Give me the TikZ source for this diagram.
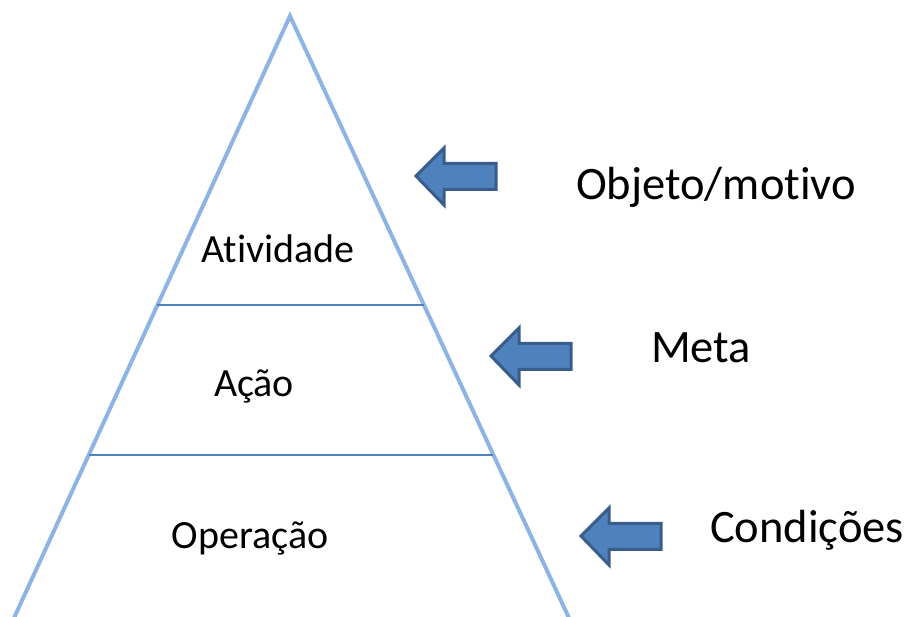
\documentclass[tikz,border=0pt]{standalone}
\usepackage{fontspec}
\setmainfont{Carlito}[RawFeature={-liga,-clig,-dlig,-calt}]
\usetikzlibrary{calc}
\definecolor{legblue}{HTML}{8DB4E2}
\definecolor{lineblue}{HTML}{4F81BD}
\definecolor{arrfill}{HTML}{4F81BD}
\definecolor{arrdraw}{HTML}{385D8A}
\newcommand{\tisplit}{t\kern0pt i}
\tikzset{
  leg/.style={draw=legblue, line width=4pt},
  divider/.style={draw=lineblue, line width=1.5pt},
  blockarrow/.style={fill=arrfill, draw=arrdraw, line width=3pt, line join=miter},
  inlabel/.style={anchor=base, inner sep=0pt, font=\fontsize{40}{44}\selectfont},
  outlabel/.style={anchor=base, inner sep=0pt, font=\fontsize{46.5}{50}\selectfont},
}
\begin{document}
\begin{tikzpicture}[x=1pt,y=-1pt]
\useasboundingbox (0,0) rectangle (911,617);
\begin{scope}
\clip (0,0) rectangle (911,617);
\coordinate (apex) at (290,16);
\coordinate (bl) at (14,618);
\coordinate (br) at (569,618);
\draw[leg] (bl) -- (apex) -- (br);
\draw[divider] ($(apex)!0.4801!(bl)$) -- ($(apex)!0.4801!(br)$);
\draw[divider] ($(apex)!0.7292!(bl)$) -- ($(apex)!0.7292!(br)$);
\end{scope}
\node[inlabel] (atividade) at (278,263) {A\tisplit vidade};
\node[inlabel] (acao) at (254,397) {Ação};
\node[inlabel] (operacao) at (250,548) {Operação};
\node[outlabel] (objeto) at (716,200) {Objeto/mo\tisplit vo};
\node[outlabel] (meta) at (701,363) {Meta};
\node[outlabel] (condicoes) at (807,543) {Condições};
\foreach \tx/\ty in {416/176, 491/356, 581/536}{
  \draw[blockarrow] (\tx,\ty) -- ++(28,-28) -- ++(0,15.5) -- ++(52,0) -- ++(0,26) -- ++(-52,0) -- ++(0,15.5) -- cycle;
}
\end{tikzpicture}
\end{document}
